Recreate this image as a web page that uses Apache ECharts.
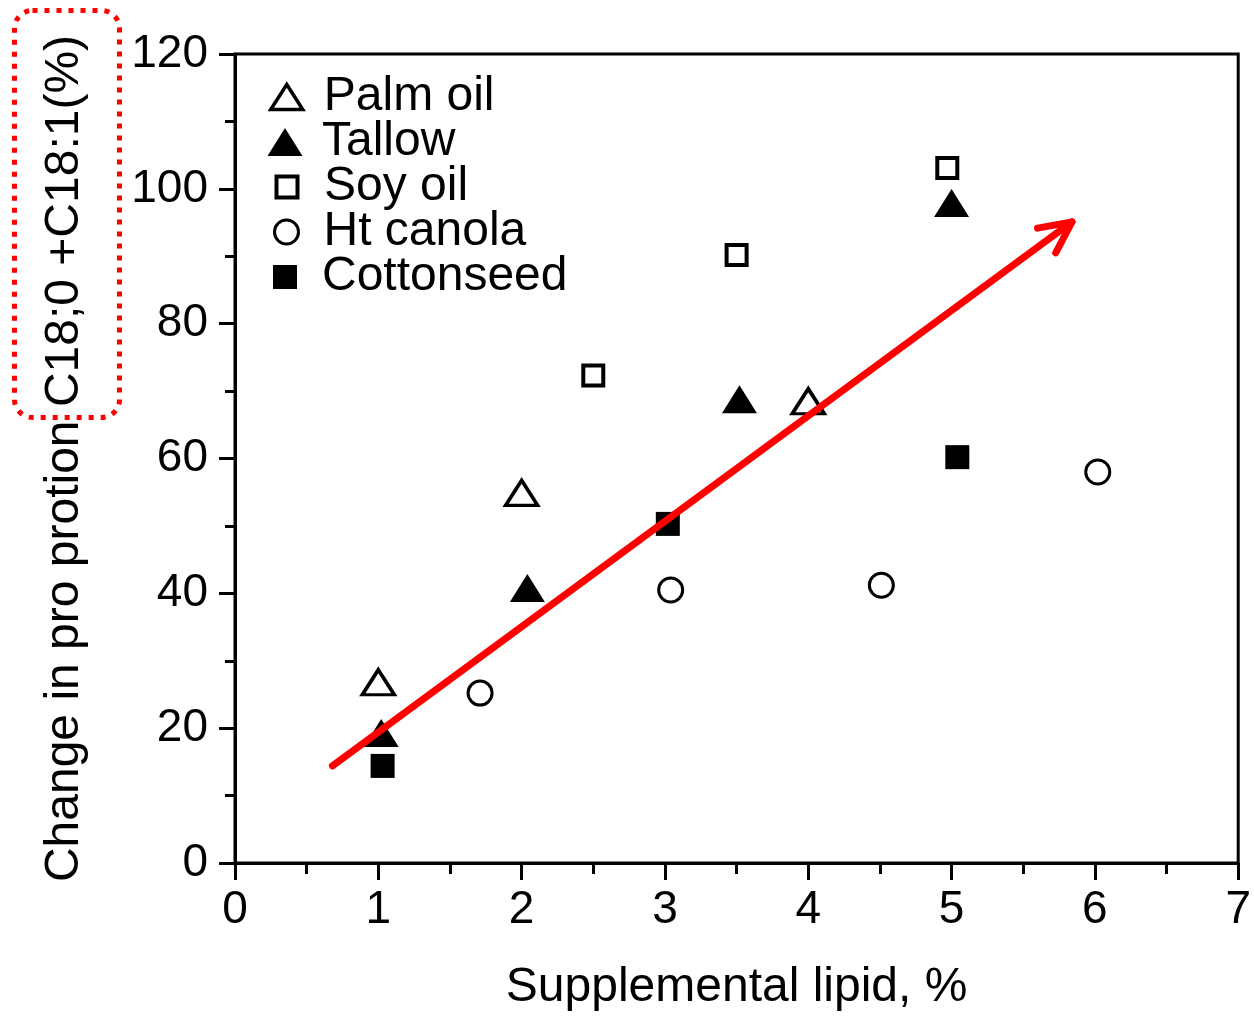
<!DOCTYPE html>
<html>
<head>
<meta charset="utf-8">
<script src="https://cdn.jsdelivr.net/npm/echarts@6/dist/echarts.min.js"></script>
<style>
  html, body { margin: 0; padding: 0; background: #fff; }
  #chart { width: 1254px; height: 1017px; }
</style>
</head>
<body>
<div id="chart"></div>
<script>
// Supplemental lipid (%) vs change in C18:0 + C18:1 proportion (%)
const palmOil   = [[1.0, 26.8], [2.0, 54.9], [4.0, 68.5]];
const tallow    = [[1.02, 19.3], [2.04, 40.8], [3.52, 68.8], [5.0, 97.9]];
const soyOil    = [[2.5, 72.3], [3.5, 90.2], [4.97, 103.1]];
const htCanola  = [[1.71, 25.2], [3.04, 40.5], [4.51, 41.2], [6.02, 58.0]];
const cottonseed = [[1.03, 14.4], [3.02, 50.3], [5.04, 60.2]];

// Trend arrow: [x0, y0, x1, y1] in data units
const trendArrow = [[0.68, 14.4, 5.84, 95.1]];

const seriesNames = ['Palm oil', 'Tallow', 'Soy oil', 'Ht canola', 'Cottonseed'];
const xTicks = [0, 1, 2, 3, 4, 5, 6, 7];
const yTicks = [0, 20, 40, 60, 80, 100, 120];

const FONT = '"Liberation Sans", Arial, sans-serif';

const styles = {
  'Palm oil':   { symbol: 'triangle', size: [32, 25], item: { color: '#fff', borderColor: '#000', borderWidth: 3.5, opacity: 1 } },
  'Tallow':     { symbol: 'triangle', size: [35, 28], item: { color: '#000', borderWidth: 0, opacity: 1 } },
  'Soy oil':    { symbol: 'rect',     size: 20,       item: { color: '#fff', borderColor: '#000', borderWidth: 4, opacity: 1 } },
  'Ht canola':  { symbol: 'circle',   size: 24,       item: { color: '#fff', borderColor: '#000', borderWidth: 3, opacity: 1 } },
  'Cottonseed': { symbol: 'rect',     size: 24,       item: { color: '#000', borderWidth: 0, opacity: 1 } }
};
const dataByName = {
  'Palm oil': palmOil, 'Tallow': tallow, 'Soy oil': soyOil,
  'Ht canola': htCanola, 'Cottonseed': cottonseed
};

const scatterSeries = seriesNames.map(name => ({
  name: name,
  type: 'scatter',
  data: dataByName[name],
  symbol: styles[name].symbol,
  symbolSize: styles[name].size,
  itemStyle: styles[name].item,
  z: 2
}));

// Legend: one entry per block so each icon keeps its own size
const legendIcon = {
  'Palm oil':   { w: 32, h: 25 },
  'Tallow':     { w: 35, h: 28 },
  'Soy oil':    { w: 21, h: 21 },
  'Ht canola':  { w: 24, h: 24 },
  'Cottonseed': { w: 24, h: 24 }
};
const legends = seriesNames.map((name, i) => {
  const ic = legendIcon[name];
  return {
    data: [{ name: name, icon: styles[name].symbol }],
    left: 285 - ic.w / 2,
    top: 97 + i * 45 - 24,
    itemWidth: ic.w,
    itemHeight: ic.h,
    itemGap: 0,
    padding: 0,
    selectedMode: false,
    itemStyle: styles[name].item,
    textStyle: {
      fontFamily: FONT, fontSize: 48, color: '#000',
      padding: [0, 0, 0, 35 - ic.w / 2 - 3]
    }
  };
});

const chart = echarts.init(document.getElementById('chart'), null, { renderer: 'canvas' });

chart.setOption({
  backgroundColor: '#fff',
  animation: false,
  grid: {
    left: 235, right: 14, top: 54, bottom: 154,
    show: true, borderColor: '#000', borderWidth: 3, backgroundColor: 'transparent'
  },
  legend: legends,
  xAxis: {
    type: 'value',
    min: xTicks[0], max: xTicks[xTicks.length - 1], interval: 1,
    name: 'Supplemental lipid, %',
    nameLocation: 'middle',
    nameGap: 101,
    nameTextStyle: { fontFamily: FONT, fontSize: 48, color: '#000' },
    axisLine: { show: true, lineStyle: { color: '#000', width: 3 } },
    axisTick: { show: true, length: 17, lineStyle: { color: '#000', width: 3 } },
    minorTick: { show: true, splitNumber: 2, length: 11, lineStyle: { color: '#000', width: 3 } },
    axisLabel: { fontFamily: FONT, fontSize: 46, color: '#000', margin: 24 },
    splitLine: { show: false }
  },
  yAxis: {
    type: 'value',
    min: yTicks[0], max: yTicks[yTicks.length - 1], interval: 20,
    name: 'Change in pro protion C18;0 +C18:1(%)',
    nameLocation: 'middle',
    nameGap: 146,
    nameTextStyle: { fontFamily: FONT, fontSize: 48, color: '#000' },
    axisLine: { show: true, lineStyle: { color: '#000', width: 3 } },
    axisTick: { show: true, length: 16, lineStyle: { color: '#000', width: 3 } },
    minorTick: { show: true, splitNumber: 2, length: 10, lineStyle: { color: '#000', width: 3 } },
    axisLabel: { fontFamily: FONT, fontSize: 46, color: '#000', margin: 27 },
    splitLine: { show: false }
  },
  series: scatterSeries.concat([{
    name: 'trend',
    type: 'custom',
    data: trendArrow,
    encode: { x: [0, 2], y: [1, 3] },
    z: 10,
    silent: true,
    renderItem: function (params, api) {
      const p0 = api.coord([api.value(0), api.value(1)]);
      const p1 = api.coord([api.value(2), api.value(3)]);
      const ang = Math.atan2(p0[1] - p1[1], p0[0] - p1[0]);
      const headLen = 35, spread = 26 * Math.PI / 180;
      const b1 = [p1[0] + headLen * Math.cos(ang + spread), p1[1] + headLen * Math.sin(ang + spread)];
      const b2 = [p1[0] + headLen * Math.cos(ang - spread), p1[1] + headLen * Math.sin(ang - spread)];
      const st = { stroke: '#ff0000', lineWidth: 7, lineCap: 'round', lineJoin: 'round', fill: null };
      return {
        type: 'group',
        children: [
          { type: 'line', shape: { x1: p0[0], y1: p0[1], x2: p1[0], y2: p1[1] }, style: st },
          { type: 'polyline', shape: { points: [b1, p1, b2] }, style: st }
        ]
      };
    }
  }]),
  graphic: [{
    // dotted highlight frame around the C18 part of the axis title
    type: 'rect',
    shape: { x: 14.5, y: 10.5, width: 105, height: 407, r: 18 },
    style: { fill: null, stroke: '#ff0000', lineWidth: 5, lineDash: [5, 7], lineCap: 'butt' },
    z: 100
  }]
});
</script>
</body>
</html>
